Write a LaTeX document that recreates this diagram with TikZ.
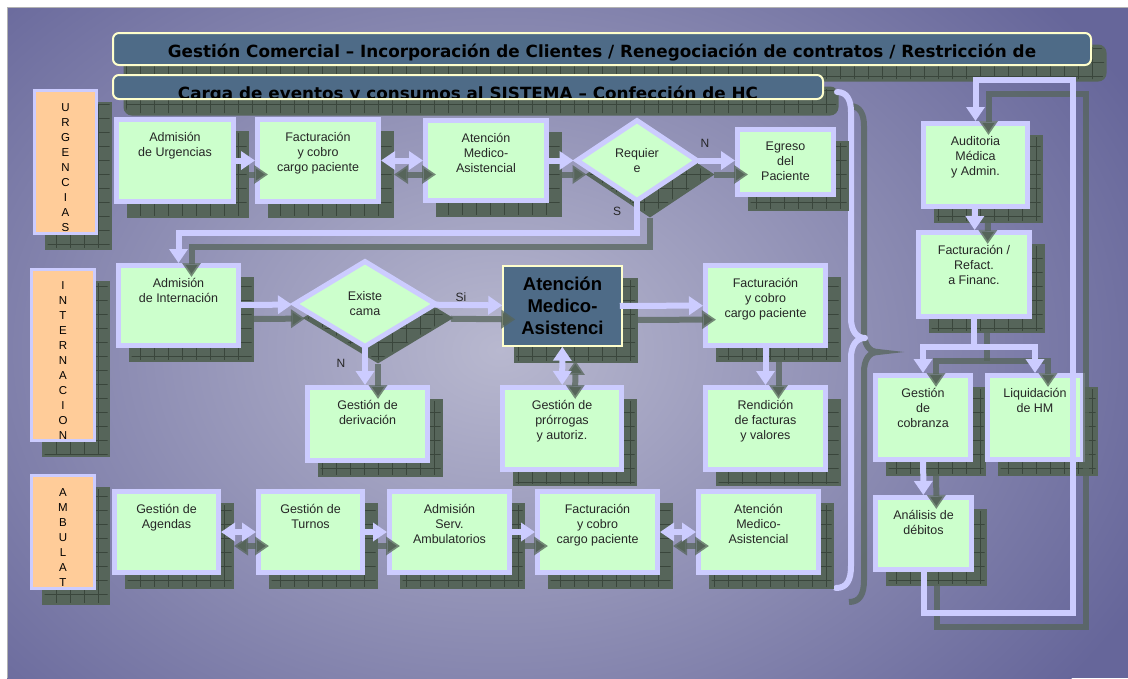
\documentclass[tikz,border=0pt]{standalone}
\usepackage{fontspec}
\setmainfont{Liberation Sans}
\newfontfamily\bannerfont{DejaVu Sans}
\usetikzlibrary{positioning,shapes.geometric,arrows.meta,patterns}

\definecolor{bgpurple}{HTML}{66669A}
\definecolor{bglight}{HTML}{B8B8CF}
\definecolor{lav}{HTML}{CCCCFF}
\definecolor{boxgreen}{HTML}{CCFFCC}
\definecolor{peach}{HTML}{FFCC99}
\definecolor{slate}{HTML}{4E6B87}
\definecolor{cream}{HTML}{FFFFCC}
\definecolor{shadowgreen}{HTML}{56655A}
\definecolor{gridgreen}{HTML}{3A463C}

\pgfdeclareradialshading{bgglow}{\pgfpointorigin}{color(0bp)=(bglight); color(25bp)=(bgpurple); color(50bp)=(bgpurple)}

\pgfdeclarepatternformonly{shadowgrid}{\pgfqpoint{-1pt}{-1pt}}{\pgfqpoint{15pt}{15pt}}{\pgfqpoint{14pt}{14pt}}{%
  \pgfsetlinewidth{0.7pt}%
  \pgfpathmoveto{\pgfqpoint{0pt}{0pt}}\pgfpathlineto{\pgfqpoint{14pt}{0pt}}%
  \pgfpathmoveto{\pgfqpoint{0pt}{0pt}}\pgfpathlineto{\pgfqpoint{0pt}{14pt}}%
  \pgfusepath{stroke}}

\tikzset{
drop/.style={preaction={draw=shadowgreen, line width=5pt, fill=shadowgreen, transform canvas={shift={(13pt,-14pt)}}},
  preaction={pattern=shadowgrid, pattern color=gridgreen, transform canvas={shift={(13pt,-14pt)}}}},
box/.style={drop, draw=lav, line width=5pt, fill=boxgreen, inner sep=0pt, label={[boxtext]north:{#1}}},
boxtext/.style={anchor=north, yshift=-15pt, align=center, inner sep=0pt, text=black!85, font=\fontsize{12.5}{15}\selectfont},
decision/.style={drop, diamond, draw=lav, line width=5pt, fill=boxgreen, inner sep=0pt, align=center, text=black!85, font=\fontsize{12.5}{15}\selectfont},
focus/.style={drop, draw=cream, line width=1.5pt, fill=slate, align=center, font=\fontsize{18.5}{22}\selectfont\bfseries},
banner/.style={drop, draw=cream, line width=2pt, fill=slate, rounded corners=6pt},
bannertext/.style={anchor=base, inner sep=0pt, font=\bannerfont\fontsize{16.8}{18}\selectfont\bfseries},
side/.style={drop, draw=lav, line width=3pt, fill=peach,
  path picture={\node[letters] at ([yshift=-4pt]path picture bounding box.north) {#1};}},
letters/.style={anchor=north, align=center, inner sep=0pt, font=\fontsize{11.5}{15}\selectfont},
flow/.style={draw=lav, line width=6pt, line cap=rect,
  preaction={draw=shadowgreen, line width=6pt, draw opacity=.75, transform canvas={shift={(13pt,-14pt)}}}},
fwd/.style={-{Triangle[length=14pt,width=18pt]}},
twoway/.style={{Triangle[length=14pt,width=18pt]}-{Triangle[length=14pt,width=18pt]}},
flowlabel/.style={inner sep=0pt, text=black!85, font=\fontsize{12}{14}\selectfont}
}

\begin{document}
\begin{tikzpicture}[x=1pt, y=-1pt]
\useasboundingbox (0,0) rectangle (1128,678);
% slide background
\fill[white] (0,0) rectangle (1128,678);
\fill[bgpurple] (7,7) rectangle (1128,678);
\begin{scope}
  \clip (7,7) rectangle (1128,678);
  \shade[shading=bgglow] (500,350) ellipse [x radius=720pt, y radius=540pt];
\end{scope}
\draw[black!30, line width=1pt] (7,678) -- (7,7) -- (1128,7);

% banners
\node[banner, minimum width=978pt, minimum height=32pt,
  path picture={\node[bannertext] at ([yshift=-8pt]path picture bounding box.center)
    {Gestión Comercial – Incorporación de Clientes / Renegociación de contratos / Restricción de};}]
  (ban1) at (602,49) {};
\node[banner, minimum width=710pt, minimum height=24pt,
  path picture={\node[bannertext] at ([yshift=-12pt]path picture bounding box.center)
    {Carga de eventos y consumos al SISTEMA – Confección de HC};}]
  (ban2) at (468,87) {};

% brace
\draw[flow, line join=round, line cap=round] (837,92) .. controls (847,92) and (851,100) .. (851,112) -- (851,318)
  .. controls (851,330) and (856,338) .. (865,338) .. controls (856,338) and (851,346) .. (851,358)
  -- (851,566) .. controls (851,580) and (847,588) .. (836,588);

% side labels
\node[side={U\\R\\G\\E\\N\\C\\I\\A\\S}, minimum width=62pt, minimum height=143pt] (urg) at (65.5,162) {};
\node[side={I\\N\\T\\E\\R\\N\\A\\C\\I\\O\\N}, minimum width=63pt, minimum height=171pt] (int) at (63,355) {};
\node[side={A\\M\\B\\U\\L\\A\\T}, minimum width=63pt, minimum height=113pt] (amb) at (63,532) {};

% urgencias
\node[box={Admisión\\de Urgencias}, minimum width=117pt, minimum height=82pt] (urgAdm) at (175,160.5) {};
\node[box={Facturación\\y cobro\\cargo paciente}, minimum width=121pt, minimum height=82pt] (urgFac) at (318,160.5) {};
\node[box={Atención\\Medico-\\Asistencial}, minimum width=121pt, minimum height=80pt] (urgAte) at (486,160.5) {};
\node[decision, minimum width=122pt, minimum height=82pt] (req) at (637,160.5) {Requier\\e};
\node[box={Egreso\\del\\Paciente}, minimum width=96pt, minimum height=65pt] (egr) at (785.5,162) {};

% internacion
\node[box={Admisión\\de Internación}, minimum width=120pt, minimum height=80pt] (intAdm) at (178.5,305.5) {};
\node[decision, minimum width=143pt, minimum height=87pt] (exi) at (365,304) {Existe\\cama};
\node[focus, minimum width=119pt, minimum height=80pt] (cen) at (562.5,306) {Atención\\Medico-\\Asistenci};
\node[box={Facturación\\y cobro\\cargo paciente}, minimum width=120pt, minimum height=80pt] (intFac) at (765.5,305.5) {};
\node[box={Gestión de\\derivación}, minimum width=120pt, minimum height=73pt] (der) at (367.5,424) {};
\node[box={Gestión de\\prórrogas\\y autoriz.}, minimum width=119pt, minimum height=82pt] (pro) at (562,428.5) {};
\node[box={Rendición\\de facturas\\y valores}, minimum width=120pt, minimum height=82pt] (ren) at (765.5,428.5) {};

% ambulatorio
\node[box={Gestión de\\Agendas}, minimum width=104pt, minimum height=81pt] (agd) at (166.5,532) {};
\node[box={Gestión de\\Turnos}, minimum width=104pt, minimum height=81pt] (tur) at (310.5,532) {};
\node[box={Admisión\\Serv.\\Ambulatorios}, minimum width=120pt, minimum height=81pt] (ads) at (449.5,532) {};
\node[box={Facturación\\y cobro\\cargo paciente}, minimum width=120pt, minimum height=81pt] (ambFac) at (597.5,532) {};
\node[box={Atención\\Medico-\\Asistencial}, minimum width=120pt, minimum height=81pt] (ambAte) at (758.5,532) {};

% administracion
\node[box={Auditoria\\Médica\\y Admin.}, minimum width=104pt, minimum height=83pt] (aud) at (975.5,165) {};
\node[box={Facturación /\\Refact.\\a Financ.}, minimum width=111pt, minimum height=84pt] (ref) at (974,274.5) {};
\node[box={Gestión\\de\\cobranza}, minimum width=95pt, minimum height=84pt] (cob) at (923,417.5) {};
\node[box={Liquidación\\de HM}, minimum width=95pt, minimum height=84pt] (liq) at (1035,417.5) {};
\node[box={Análisis de\\débitos}, minimum width=96pt, minimum height=72pt] (ana) at (923.5,533.5) {};

% connectors
\draw[flow, fwd] (urgAdm) -- (urgFac);
\draw[flow, twoway] (urgFac) -- (urgAte);
\draw[flow, fwd] (urgAte) -- (req);
\draw[flow, fwd] (req.east) -- (req.east -| egr.west);
\draw[flow, fwd] (req.south) -- ++(0,29) -| (intAdm.north);
\node[flowlabel] (lblN1) at (705,143) {N};
\node[flowlabel] (lblS) at (617,211) {S};

\draw[flow, fwd] (intAdm) -- (exi);
\draw[flow, fwd] (exi) -- (cen);
\draw[flow, fwd] (exi) -- (exi |- der.north);
\draw[flow, fwd] (cen) -- (intFac);
\draw[flow, twoway] (cen) -- (pro);
\draw[flow, fwd] (intFac) -- (ren);
\node[flowlabel] (lblSi) at (461,297) {Si};
\node[flowlabel] (lblN2) at (341,363) {N};

\draw[flow, twoway] (agd) -- (tur);
\draw[flow, fwd] (tur) -- (ads);
\draw[flow, fwd] (ads) -- (ambFac);
\draw[flow, twoway] (ambFac) -- (ambAte);

\coordinate (fork) at (974,347);
\coordinate (loopLow) at (1073,613);
\coordinate (loopTop) at (1073,80);
\draw[flow, fwd] (aud) -- (ref);
\draw[flow] (ref) -- (fork);
\draw[flow, fwd] (fork) -| (cob);
\draw[flow, fwd] (fork) -| (liq);
\draw[flow, fwd] (cob) -- (ana);
\draw[flow, fwd] (ana) |- (loopLow) -- (loopTop) -| (aud);
\end{tikzpicture}
\end{document}
